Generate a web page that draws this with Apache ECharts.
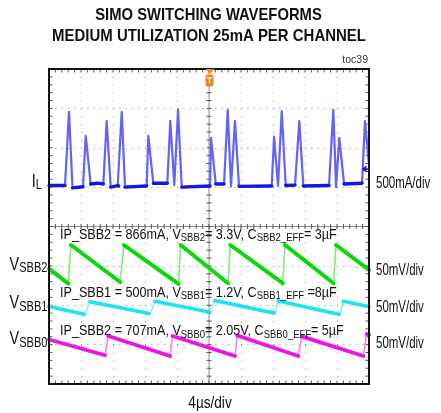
<!DOCTYPE html>
<html><head><meta charset="utf-8">
<script src="https://cdn.jsdelivr.net/npm/echarts@6/dist/echarts.min.js"></script>
<style>html,body{margin:0;padding:0;background:#fff}#c{width:441px;height:413px}</style>
</head><body><div id="c"></div>
<script>
// Time in µs (4 µs/div, 10 div), amplitude in screen divisions (-4..4, 0 = centre line)
const ilTime  = [0, 2.0, 2.5, 2.94, 4.25, 4.59, 5.21, 6.09, 6.79, 7.21, 7.71, 8.59, 8.71, 9.09, 9.5, 12.21, 12.41, 13.04, 14.79, 15.16, 15.66, 16.13, 16.59, 20.13, 20.25, 20.84, 21.88, 22.34, 22.75, 23.25, 23.75, 27.84, 28.13, 28.63, 29.09, 29.59, 30.75, 31.29, 31.79, 35.0, 35.54, 35.88, 36.29, 36.88, 39.13, 39.5, 40];
const ilValue = [1.04, 1.04, 2.91, 0.98, 1.01, 2.30, 1.08, 1.10, 1.08, 2.68, 1.00, 1.04, 1.03, 2.91, 1.00, 1.03, 2.30, 1.10, 1.10, 2.68, 1.05, 2.97, 1.00, 1.03, 2.25, 1.08, 1.08, 2.96, 1.02, 2.68, 1.02, 1.03, 2.28, 1.03, 2.93, 1.04, 1.05, 2.68, 1.03, 1.04, 2.96, 1.00, 2.25, 1.08, 1.10, 2.68, 1.56];

const sbb2Time  = [0, 2.41, 2.75, 8.88, 9.38, 16.19, 16.46, 22.38, 22.66, 29.21, 29.5, 35.56, 35.88, 40];
const sbb2Value = [-1.07, -1.45, -0.47, -1.41, -0.47, -1.46, -0.47, -1.44, -0.47, -1.44, -0.47, -1.44, -0.47, -1.10];

const sbb1Time  = [0, 4.38, 4.63, 5.13, 12.5, 12.81, 13.25, 20.06, 20.31, 20.75, 28.13, 28.31, 28.66, 36.25, 36.44, 36.81, 40];
const sbb1Value = [-2.03, -2.23, -2.17, -1.91, -2.21, -2.14, -1.90, -2.17, -2.12, -1.88, -2.20, -2.14, -1.89, -2.23, -2.17, -1.90, -2.04];

const sbb0Time  = [0, 7.0, 7.41, 15.13, 15.46, 23.25, 23.54, 31.16, 31.59, 39.29, 39.71, 40];
const sbb0Value = [-2.87, -3.27, -2.78, -3.29, -2.78, -3.29, -2.77, -3.29, -2.79, -3.29, -2.73, -2.75];

const titleLines = ['SIMO SWITCHING WAVEFORMS', 'MEDIUM UTILIZATION 25mA PER CHANNEL'];
const figTag = 'toc39';
const timeScale = '4µs/div';
const scaleLabels = ['500mA/div', '50mV/div', '50mV/div', '50mV/div'];
const chanNames = [['I', 'L'], ['V', 'SBB2'], ['V', 'SBB1'], ['V', 'SBB0']];
const notes = [
  [['IP_SBB2 = 866mA, V', 'm'], ['SBB2', 's'], ['= 3.3V, C', 'm'], ['SBB2_EFF', 's'], ['= 3µF', 'm']],
  [['IP_SBB1 = 500mA, V', 'm'], ['SBB1', 's'], ['= 1.2V, C', 'm'], ['SBB1_EFF', 's'], [' =8µF', 'm']],
  [['IP_SBB2 = 707mA, V', 'm'], ['SBB0', 's'], ['= 2.05V, C', 'm'], ['SBB0_EFF', 's'], ['= 5µF', 'm']]
];

const FONT = "'Liberation Sans', Arial, Helvetica, sans-serif";
const chart = echarts.init(document.getElementById('c'), null, {renderer: 'canvas'});

function pairs(t, v) { return t.map((x, i) => [x, v[i]]); }
function thickPart(t, v, isThick) {
  const out = []; let last = -1;
  for (let i = 0; i < t.length - 1; i++) {
    if (isThick(i)) {
      if (last !== i) { if (out.length) out.push(['-', '-']); out.push([t[i], v[i]]); }
      out.push([t[i + 1], v[i + 1]]); last = i + 1;
    }
  }
  return out;
}
function lineSeries(data, color, width, z) {
  return {type: 'line', data, showSymbol: false, symbol: 'none', connectNulls: false,
    lineStyle: {color, width, join: 'round', cap: 'round'}, z, silent: true, animation: false};
}
const ilLow = i => ilValue[i] < 1.2 && ilValue[i + 1] < 1.2;
const falling = v => i => v[i + 1] < v[i];

function graticule(params, api) {
  const ch = [];
  const tick = '#555', ctr = '#8c8c8c';
  const seg = (a, b, c, w) => ch.push({type: 'line', shape: {x1: a[0], y1: a[1], x2: b[0], y2: b[1]}, style: {stroke: c, lineWidth: w || 1}});
  const cT = api.coord([20, 4]), cB = api.coord([20, -4]);
  const cL = api.coord([0, 0]), cR = api.coord([40, 0]);
  seg(cT, cB, ctr); seg(cL, cR, ctr);
  for (let i = 1; i < 50; i++) {
    const t = i * 0.8;
    const top = api.coord([t, 4]), bot = api.coord([t, -4]), mid = api.coord([t, 0]);
    seg(top, [top[0], top[1] + 3.5], tick);
    seg(bot, [bot[0], bot[1] - 3.5], tick);
    seg([mid[0], mid[1] - 2.5], [mid[0], mid[1] + 2.5], tick);
  }
  for (let j = 1; j < 40; j++) {
    const v = -4 + j * 0.2;
    const l = api.coord([0, v]), r = api.coord([40, v]), m = api.coord([20, v]);
    seg(l, [l[0] + 3.5, l[1]], tick);
    seg(r, [r[0] - 3.5, r[1]], tick);
    seg([m[0] - 2.5, m[1]], [m[0] + 2.5, m[1]], tick);
  }
  return {type: 'group', children: ch};
}

function richText(parts) { return parts.map(p => '{' + p[1] + '|' + p[0] + '}').join(''); }
function txt(x, y, text, o) {
  return Object.assign({type: 'text', x, y, silent: true, z: 100,
    style: Object.assign({text, fill: '#111', fontFamily: FONT}, o.style)}, o.el || {});
}

const graphics = [];
graphics.push(txt(208.5, 15.5, titleLines[0], {el: {scaleX: 0.87}, style: {fontSize: 17, fontWeight: 'bold', align: 'center', verticalAlign: 'middle', textAlign: 'center', textVerticalAlign: 'middle'}}));
graphics.push(txt(209, 36.7, titleLines[1], {el: {scaleX: 0.88}, style: {fontSize: 17, fontWeight: 'bold', align: 'center', verticalAlign: 'middle', textAlign: 'center', textVerticalAlign: 'middle'}}));
graphics.push(txt(368, 60.5, figTag, {style: {fontSize: 10.5, fill: '#333', align: 'right', verticalAlign: 'middle', textAlign: 'right', textVerticalAlign: 'middle'}}));
graphics.push(txt(210, 403.5, timeScale, {el: {scaleX: 0.85}, style: {fontSize: 16, align: 'center', verticalAlign: 'middle', textAlign: 'center', textVerticalAlign: 'middle'}}));
const rightY = [184, 270.5, 307.5, 344];
scaleLabels.forEach((s, i) => graphics.push(txt(376, rightY[i], s, {el: {scaleX: 0.82, scaleY: 1.15}, style: {fontSize: 14, align: 'left', verticalAlign: 'middle', textAlign: 'left', textVerticalAlign: 'middle'}})));
const leftPos = [[42, 181.7], [47.5, 264.5], [47.5, 303], [47.5, 339.2]];
chanNames.forEach((n, i) => graphics.push(txt(leftPos[i][0], leftPos[i][1], '{m|' + n[0] + '}{s|' + n[1] + '}', {el: {scaleX: 0.85, scaleY: 1.1},
  style: {align: 'right', verticalAlign: 'middle', textAlign: 'right', textVerticalAlign: 'middle',
    rich: {m: {fontSize: 17, lineHeight: 20, verticalAlign: 'middle', fontFamily: FONT, fill: '#111'},
           s: {fontSize: 13, lineHeight: 13, verticalAlign: 'bottom', fontFamily: FONT, fill: '#111'}}}})));
const noteBase = [240, 298, 336.5];
notes.forEach((n, i) => graphics.push(txt(60, noteBase[i] - 14, richText(n), {el: {scaleX: 0.9},
  style: {align: 'left', verticalAlign: 'top', textAlign: 'left', textVerticalAlign: 'top',
    rich: {m: {fontSize: 14, lineHeight: 18, verticalAlign: 'middle', fontFamily: FONT, fill: '#111'},
           s: {fontSize: 10.5, lineHeight: 11, verticalAlign: 'bottom', fontFamily: FONT, fill: '#111'}}}})));
// trigger marker
graphics.push({type: 'polygon', z: 101, silent: true, shape: {points: [[205.5, 69], [214.5, 69], [210, 74]]}, style: {fill: '#f7861c'}});
graphics.push({type: 'rect', z: 101, silent: true, shape: {x: 205.5, y: 74.5, width: 8, height: 12, r: 2}, style: {fill: '#f7861c'}});
graphics.push(txt(209.5, 80.7, 'T', {el: {z: 102}, style: {fontSize: 9, fontWeight: 'bold', fill: '#fff', align: 'center', verticalAlign: 'middle', textAlign: 'center', textVerticalAlign: 'middle'}}));
// channel level marker
graphics.push({type: 'polygon', z: 101, silent: true, shape: {points: [[361.5, 169], [366.5, 165.5], [366.5, 172.5]]}, style: {fill: '#1a1ad0'}});
graphics.push({type: 'line', z: 101, silent: true, shape: {x1: 365, y1: 169, x2: 369, y2: 169}, style: {stroke: '#1a1ad0', lineWidth: 1.5}});

const axisCommon = {axisLabel: {show: false}, axisTick: {show: false}, axisLine: {show: false}};
chart.setOption({
  animation: false,
  backgroundColor: '#fff',
  grid: {left: 49, top: 69, width: 320, height: 315, show: true, borderColor: '#111', borderWidth: 2, backgroundColor: 'transparent', z: 10},
  xAxis: Object.assign({type: 'value', min: 0, max: 40, interval: 4,
    splitLine: {show: true, lineStyle: {color: '#8a8a8a', width: 1, type: [1, 6.88]}}}, axisCommon),
  yAxis: Object.assign({type: 'value', min: -4, max: 4, interval: 1,
    splitLine: {show: true, lineStyle: {color: '#8a8a8a', width: 1, type: [1, 5.4]}}}, axisCommon),
  series: [
    {type: 'custom', renderItem: graticule, data: [[0, 0]], z: 1, silent: true, clip: false},
    lineSeries(pairs(ilTime, ilValue), '#6262ff', 2.2, 3),
    lineSeries(thickPart(ilTime, ilValue, ilLow), '#1616e0', 3.4, 4),
    lineSeries(pairs(sbb2Time, sbb2Value), '#78ee78', 1.6, 3),
    lineSeries(thickPart(sbb2Time, sbb2Value, falling(sbb2Value)), '#0ad80a', 4, 4),
    lineSeries(pairs(sbb1Time, sbb1Value), '#86f0f6', 1.6, 3),
    lineSeries(thickPart(sbb1Time, sbb1Value, falling(sbb1Value)), '#1ee4ee', 3.6, 4),
    lineSeries(pairs(sbb0Time, sbb0Value), '#f27ff2', 1.6, 3),
    lineSeries(thickPart(sbb0Time, sbb0Value, falling(sbb0Value)), '#ec12ec', 3.8, 4)
  ],
  graphic: graphics
});
</script></body></html>
